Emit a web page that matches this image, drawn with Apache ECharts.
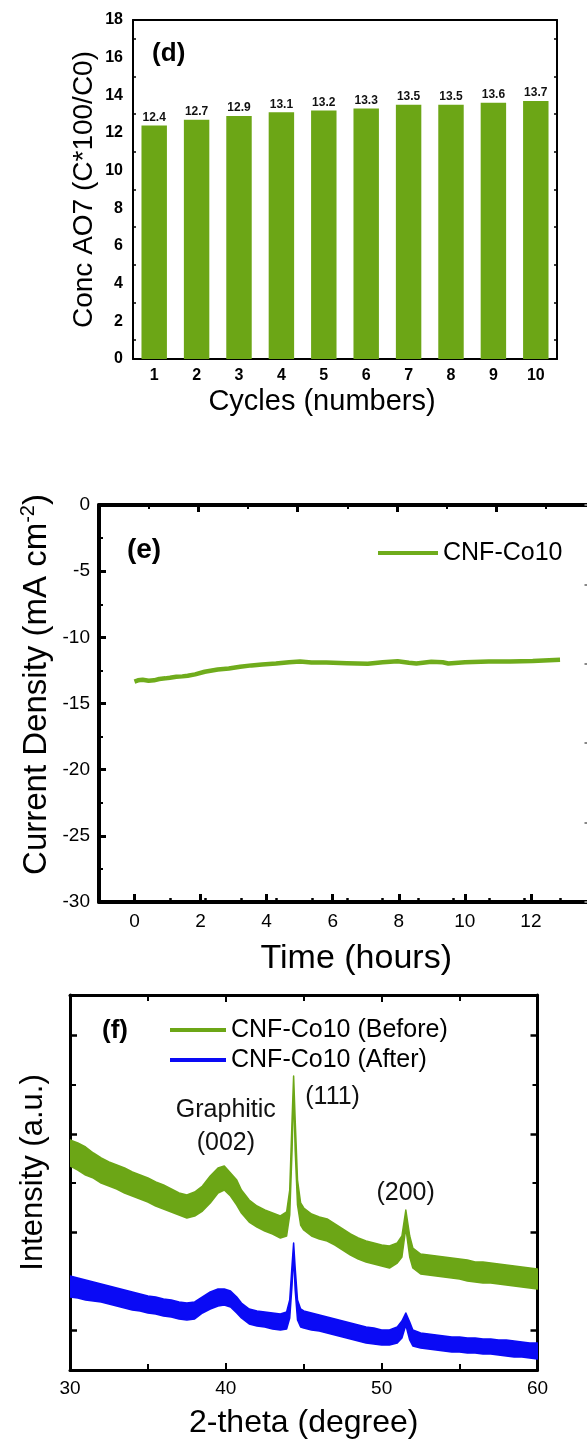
<!DOCTYPE html>
<html>
<head>
<meta charset="utf-8">
<script src="https://cdn.jsdelivr.net/npm/echarts@6/dist/echarts.min.js"></script>
<style>
html,body{margin:0;padding:0;background:#fff;overflow:hidden;}
#chart{width:600px;height:1441px;}
</style>
</head>
<body>
<div id="chart"></div>
<script>
// ---------- Panel (d): AO7 concentration per cycle ----------
const cycles = ['1','2','3','4','5','6','7','8','9','10'];
const concAO7 = [12.4, 12.7, 12.9, 13.1, 13.2, 13.3, 13.5, 13.5, 13.6, 13.7];

// ---------- Panel (e): chronoamperometry ----------
const timeHours = [0, 0.1, 0.23, 0.4, 0.55, 0.7, 0.87, 1.0, 1.18, 1.35, 1.5, 1.71, 1.98, 2.35, 2.66, 2.98, 3.3, 3.6, 3.99, 4.36, 4.67, 4.99, 5.41, 5.99, 6.58, 7.0, 7.42, 7.74, 7.95, 8.37, 8.69, 8.85, 9.32, 9.99, 10.59, 11.23, 12.0];
const currentDensity = [-13.35, -13.25, -13.2, -13.28, -13.25, -13.15, -13.1, -13.05, -12.98, -12.95, -12.9, -12.8, -12.6, -12.43, -12.35, -12.22, -12.12, -12.05, -11.98, -11.88, -11.82, -11.9, -11.9, -11.95, -12.0, -11.88, -11.8, -11.92, -11.98, -11.85, -11.88, -11.98, -11.88, -11.82, -11.82, -11.78, -11.7];

// ---------- Panel (f): XRD (upper / lower envelope of the noisy traces, a.u.) ----------
const twoTheta = [30,30.5,31,31.5,32,32.5,33,33.5,34,34.5,35,35.5,36,36.5,37,37.5,38,38.5,39,39.5,39.9,40.3,40.7,41,41.5,42,42.5,43,43.5,43.9,44.1,44.25,44.35,44.45,44.6,44.8,45,45.5,46,46.5,47,47.5,48,48.5,49,49.5,50,50.5,51,51.3,51.55,51.8,52,52.5,53,53.5,54,54.5,55,55.5,56,56.5,57,57.5,58,58.5,59,59.5,60];
const beforeHigh = [2300,2270,2230,2170,2120,2080,2050,2020,1980,1950,1920,1880,1850,1810,1770,1750,1780,1840,1940,2020,2040,1970,1900,1800,1700,1640,1600,1570,1540,1580,1800,2500,2940,2500,1900,1670,1620,1560,1530,1510,1460,1410,1360,1320,1290,1270,1250,1240,1270,1340,1600,1340,1220,1160,1150,1140,1130,1120,1110,1100,1080,1080,1070,1060,1050,1040,1030,1020,1010];
const beforeLow  = [2040,2000,1950,1920,1870,1840,1810,1770,1740,1710,1680,1640,1610,1580,1550,1520,1540,1590,1670,1770,1800,1740,1650,1570,1480,1430,1390,1360,1320,1340,1550,2200,2800,2200,1650,1450,1400,1340,1310,1290,1250,1200,1150,1110,1080,1060,1040,1020,1070,1130,1420,1130,1020,960,950,940,930,920,910,890,880,870,870,860,850,840,830,820,810];
const afterHigh  = [940,920,900,880,860,840,820,800,780,760,740,730,710,700,680,670,680,730,780,810,810,790,730,670,610,590,580,570,560,580,700,1050,1270,1020,700,610,590,570,550,530,510,490,470,450,430,420,400,400,430,490,570,480,400,370,360,350,340,330,330,320,320,310,310,300,300,290,280,270,270];
const afterLow   = [730,720,700,690,680,660,640,620,600,590,570,560,540,530,510,500,510,570,610,640,650,630,570,520,460,440,430,410,400,410,520,850,1150,800,500,430,420,400,390,370,350,330,310,290,270,260,250,250,270,320,450,300,240,220,210,200,190,180,180,170,170,160,160,150,140,130,130,120,110];
const peakLabels = [
  {name: 'Graphitic\n(002)', x: 40.0, y: 2435},
  {name: '(111)', x: 46.85, y: 2733},
  {name: '(200)', x: 51.54, y: 1770}
];

const FONT = '"Liberation Sans", Arial, sans-serif';
const GREEN = '#6ca616';
const LGREEN = '#6fac1c';
const BLUE = '#0a0af5';
const BLACK = '#000';

const chart = echarts.init(document.getElementById('chart'), null, {renderer: 'canvas'});

function blackLine(w){ return {show: true, onZero: false, lineStyle: {color: BLACK, width: w}}; }

function bandSeries(name, color, high, low) {
  return {
    type: 'custom', name: name, xAxisIndex: 5, yAxisIndex: 5, coordinateSystem: 'cartesian2d',
    data: [[twoTheta[0], low[0]]],
    itemStyle: {color: color},
    clip: true,
    renderItem: function (params, api) {
      const pts = [];
      for (let i = 0; i < twoTheta.length; i++) pts.push(api.coord([twoTheta[i], high[i]]));
      for (let i = twoTheta.length - 1; i >= 0; i--) pts.push(api.coord([twoTheta[i], low[i]]));
      return {type: 'polygon', shape: {points: pts},
              style: {fill: color, stroke: color, lineWidth: 1.5, lineJoin: 'round'}};
    }
  };
}

const option = {
  animation: false,
  backgroundColor: '#fff',
  textStyle: {fontFamily: FONT, color: BLACK},
  graphic: [
    {type: 'text', style: {text: '(d)', x: 168.7, y: 54, font: 'bold 26px ' + FONT, fill: BLACK, align: 'center', verticalAlign: 'middle'}},
    {type: 'text', style: {text: '(e)', x: 144, y: 550, font: 'bold 28px ' + FONT, fill: BLACK, align: 'center', verticalAlign: 'middle'}},
    {type: 'text', style: {text: '(f)', x: 115, y: 1031, font: 'bold 26px ' + FONT, fill: BLACK, align: 'center', verticalAlign: 'middle'}}
  ],
  legend: [
    {
      data: ['CNF-Co10'], left: 378, top: 540.5, padding: 0, icon: 'rect',
      itemWidth: 60, itemHeight: 4, selectedMode: false,
      textStyle: {fontSize: 25, fontFamily: FONT, color: BLACK, lineHeight: 25}
    },
    {
      data: ['CNF-Co10 (Before)', 'CNF-Co10 (After)'], orient: 'vertical', left: 170, top: 1017.5, padding: 0,
      icon: 'rect', itemWidth: 56, itemHeight: 4, itemGap: 5, selectedMode: false,
      textStyle: {fontSize: 25, fontFamily: FONT, color: BLACK, lineHeight: 25}
    }
  ],
  grid: [
    {left: 133, top: 20, width: 424, height: 339},
    {left: 99, top: 505, width: 496.5, height: 397},
    {left: 134.5, top: 505, width: 496.5, height: 397},
    {left: 70, top: 995, width: 467.5, height: 375},
    {left: 70, top: 1035.5, width: 467.5, height: 295}
  ],
  xAxis: [
    // 0: (d) bottom
    {type: 'category', gridIndex: 0, data: cycles, position: 'bottom',
     axisLine: blackLine(2),
     axisTick: {inside: true, alignWithLabel: true, length: 5, lineStyle: {color: BLACK, width: 2}},
     axisLabel: {fontSize: 16, fontWeight: 'bold', color: BLACK, margin: 9, fontFamily: FONT},
     name: 'Cycles (numbers)', nameLocation: 'middle', nameGap: 28,
     nameTextStyle: {fontSize: 29, color: BLACK, fontFamily: FONT, padding: [0, 46, 0, 0]}},
    // 1: (d) top
    {type: 'category', gridIndex: 0, data: cycles, position: 'top',
     axisLine: blackLine(2),
     axisTick: {inside: true, length: 5, lineStyle: {color: BLACK, width: 2}},
     axisLabel: {show: false}},
    // 2: (e) bottom main (odd-hour minor ticks)
    {type: 'value', gridIndex: 1, min: -1, max: 13, interval: 1, position: 'bottom',
     axisLine: blackLine(4),
     axisTick: {inside: true, length: 4, lineStyle: {color: BLACK, width: 2.5}},
     axisLabel: {show: false}, splitLine: {show: false},
     name: 'Time (hours)', nameLocation: 'middle', nameGap: 40,
     nameTextStyle: {fontSize: 34, color: BLACK, fontFamily: FONT, padding: [0, 0, 0, 18]}},
    // 3: (e) top
    {type: 'value', gridIndex: 1, min: 0, max: 5, interval: 1, position: 'top',
     axisLine: blackLine(4),
     axisTick: {inside: true, length: 7, lineStyle: {color: BLACK, width: 3}},
     minorTick: {show: true, splitNumber: 2, length: 4, lineStyle: {color: BLACK, width: 2}},
     axisLabel: {show: false}, splitLine: {show: false}},
    // 4: (e) even-hour major ticks + labels
    {type: 'value', gridIndex: 2, min: 0, max: 14, interval: 2, position: 'bottom',
     axisLine: {show: false, onZero: false},
     axisTick: {inside: true, length: 8, lineStyle: {color: BLACK, width: 3}},
     axisLabel: {fontSize: 19, color: BLACK, margin: 10, fontFamily: FONT,
                 formatter: function (v) { return v <= 12 ? String(v) : ''; }},
     splitLine: {show: false}},
    // 5: (f) bottom
    {type: 'value', gridIndex: 3, min: 30, max: 60, interval: 10, position: 'bottom',
     axisLine: blackLine(3),
     axisTick: {inside: true, length: 7, lineStyle: {color: BLACK, width: 2}},
     minorTick: {show: true, splitNumber: 2, length: 6, lineStyle: {color: BLACK, width: 2}},
     axisLabel: {fontSize: 19, color: BLACK, margin: 9, fontFamily: FONT},
     splitLine: {show: false},
     name: '2-theta (degree)', nameLocation: 'middle', nameGap: 37,
     nameTextStyle: {fontSize: 32, color: BLACK, fontFamily: FONT}},
    // 6: (f) top
    {type: 'value', gridIndex: 3, min: 30, max: 60, interval: 10, position: 'top',
     axisLine: blackLine(3),
     axisTick: {inside: true, length: 7, lineStyle: {color: BLACK, width: 2}},
     minorTick: {show: true, splitNumber: 2, length: 6, lineStyle: {color: BLACK, width: 2}},
     axisLabel: {show: false}, splitLine: {show: false}},
    // 7: (f) tick-grid helper
    {type: 'value', gridIndex: 4, show: false, min: 0, max: 1}
  ],
  yAxis: [
    // 0: (d) left
    {type: 'value', gridIndex: 0, min: 0, max: 18, interval: 2, position: 'left',
     axisLine: blackLine(2),
     axisTick: {inside: true, length: 5, lineStyle: {color: BLACK, width: 2}},
     minorTick: {show: true, splitNumber: 2, length: 3, lineStyle: {color: BLACK, width: 1.5}},
     axisLabel: {fontSize: 16, fontWeight: 'bold', color: BLACK, margin: 10, fontFamily: FONT},
     splitLine: {show: false},
     name: 'Conc AO7 (C*100/C0)', nameLocation: 'middle', nameGap: 35, nameMoveOverlap: false,
     nameTextStyle: {fontSize: 28, color: BLACK, fontFamily: FONT}},
    // 1: (d) right
    {type: 'value', gridIndex: 0, min: 0, max: 18, interval: 2, position: 'right',
     axisLine: blackLine(2),
     axisTick: {inside: true, length: 5, lineStyle: {color: BLACK, width: 2}},
     minorTick: {show: true, splitNumber: 2, length: 3, lineStyle: {color: BLACK, width: 1.5}},
     axisLabel: {show: false}, splitLine: {show: false}},
    // 2: (e) left
    {type: 'value', gridIndex: 1, min: -30, max: 0, interval: 5, position: 'left',
     axisLine: blackLine(4),
     axisTick: {inside: true, length: 7, lineStyle: {color: BLACK, width: 3}},
     minorTick: {show: true, splitNumber: 2, length: 4, lineStyle: {color: BLACK, width: 2}},
     axisLabel: {fontSize: 19, color: BLACK, margin: 9, fontFamily: FONT},
     splitLine: {show: false},
     name: 'Current Density (mA cm{sup|-2})', nameLocation: 'middle', nameGap: 43, nameMoveOverlap: false,
     nameTextStyle: {fontSize: 33, color: BLACK, fontFamily: FONT, lineHeight: 38, padding: [0, 0, 0, 38],
       rich: {sup: {fontSize: 20, color: BLACK, fontFamily: FONT, verticalAlign: 'top', lineHeight: 20}}}},
    // 3: (e) right
    {type: 'value', gridIndex: 1, min: 0, max: 5, interval: 1, position: 'right',
     axisLine: blackLine(4),
     axisTick: {inside: true, length: 11, lineStyle: {color: '#888', width: 2}},
     axisLabel: {show: false}, splitLine: {show: false}},
    // 4: (e) helper
    {type: 'value', gridIndex: 2, show: false, min: 0, max: 1},
    // 5: (f) left
    {type: 'value', gridIndex: 3, min: 0, max: 3750, position: 'left',
     axisLine: blackLine(3), axisTick: {show: false}, axisLabel: {show: false}, splitLine: {show: false},
     name: 'Intensity (a.u.)', nameLocation: 'middle', nameGap: 21,
     nameTextStyle: {fontSize: 31, color: BLACK, fontFamily: FONT, padding: [0, 0, 0, 20]}},
    // 6: (f) right
    {type: 'value', gridIndex: 3, min: 0, max: 3750, position: 'right',
     axisLine: blackLine(3), axisTick: {show: false}, axisLabel: {show: false}, splitLine: {show: false}},
    // 7: (f) tick helper left
    {type: 'value', gridIndex: 4, min: 0, max: 3, interval: 1, position: 'left',
     axisLine: {show: false, onZero: false},
     axisTick: {inside: true, length: 7, lineStyle: {color: BLACK, width: 2.5}},
     minorTick: {show: true, splitNumber: 2, length: 6, lineStyle: {color: BLACK, width: 2}},
     axisLabel: {show: false}, splitLine: {show: false}},
    // 8: (f) tick helper right
    {type: 'value', gridIndex: 4, min: 0, max: 3, interval: 1, position: 'right',
     axisLine: {show: false, onZero: false},
     axisTick: {inside: true, length: 7, lineStyle: {color: BLACK, width: 2.5}},
     minorTick: {show: true, splitNumber: 2, length: 5, lineStyle: {color: BLACK, width: 2}},
     axisLabel: {show: false}, splitLine: {show: false}}
  ],
  series: [
    {type: 'bar', name: 'Conc', xAxisIndex: 0, yAxisIndex: 0, data: concAO7, barWidth: '60%',
     itemStyle: {color: GREEN},
     label: {show: true, position: 'top', distance: 2, fontSize: 12, fontWeight: 'bold', color: '#111', fontFamily: FONT,
             formatter: function (p) { return p.value.toFixed(1); }}},
    {type: 'line', name: 'CNF-Co10', xAxisIndex: 2, yAxisIndex: 2,
     data: timeHours.map(function (t, i) { return [t, currentDensity[i]]; }),
     symbol: 'none', smooth: false, color: LGREEN,
     lineStyle: {color: LGREEN, width: 4.5}},
    bandSeries('CNF-Co10 (Before)', GREEN, beforeHigh, beforeLow),
    bandSeries('CNF-Co10 (After)', BLUE, afterHigh, afterLow),
    {type: 'scatter', name: 'peaks', xAxisIndex: 5, yAxisIndex: 5, symbolSize: 0, silent: true,
     itemStyle: {opacity: 1},
     data: peakLabels.map(function (p) { return {name: p.name, value: [p.x, p.y]}; }),
     label: {show: true, position: 'inside', formatter: '{b}', fontSize: 25, lineHeight: 33,
             color: '#111', opacity: 1, fontFamily: FONT, align: 'center', verticalAlign: 'middle'}}
  ]
};
chart.setOption(option);
</script>
</body>
</html>
